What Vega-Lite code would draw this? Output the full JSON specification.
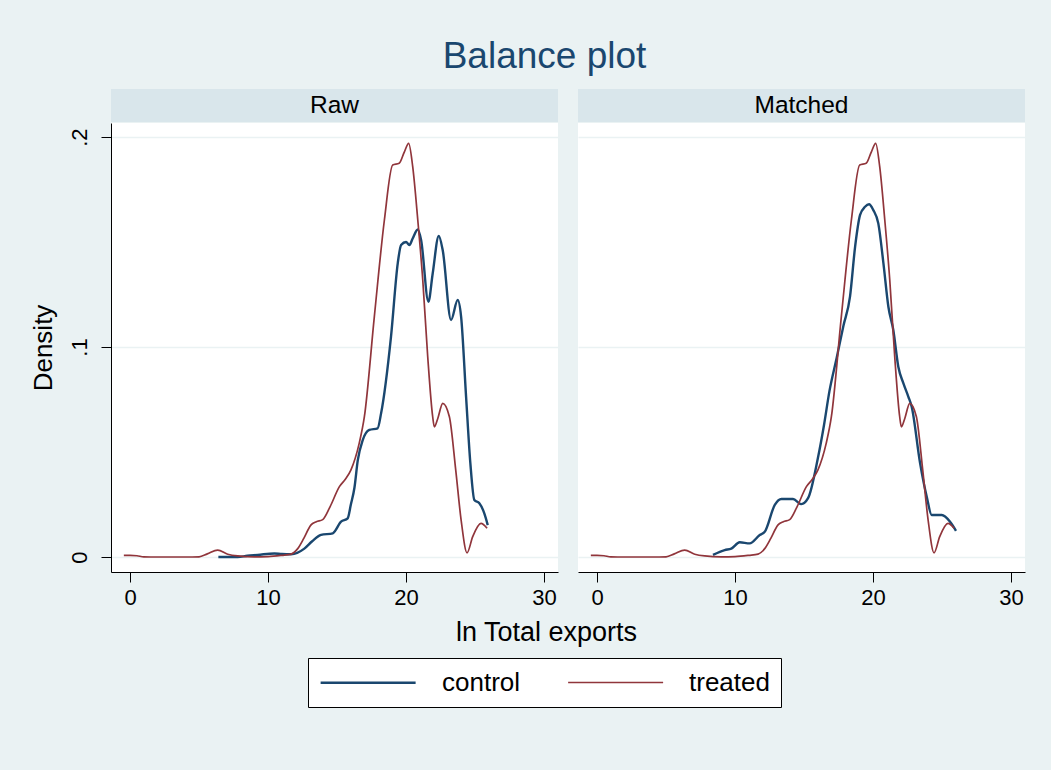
{
  "$schema": "https://vega.github.io/schema/vega-lite/v6.json",
  "background": "#eaf2f3",
  "padding": {"left": 30, "top": 38, "right": 26, "bottom": 64},
  "title": {"text": "Balance plot", "fontSize": 37, "font": "Liberation Sans", "fontWeight": "normal", "color": "#1a476f", "offset": 13, "anchor": "middle", "dx": 17},
  "config": {
    "font": "Liberation Sans",
    "view": {"stroke": null},
    "axis": {"domainColor": "#000", "tickColor": "#000", "labelColor": "#000", "titleColor": "#000", "labelFont": "Liberation Sans", "titleFont": "Liberation Sans", "titleFontWeight": "normal", "gridColor": "#eaf2f3", "gridWidth": 1.5}
  },
  "datasets": {
    "dens": [
      {"sample": "Raw", "group": "control", "x": 6.4, "y": 0.0},
      {"sample": "Raw", "group": "control", "x": 7.8, "y": 0.0},
      {"sample": "Raw", "group": "control", "x": 8.5, "y": 0.0006},
      {"sample": "Raw", "group": "control", "x": 9.25, "y": 0.001},
      {"sample": "Raw", "group": "control", "x": 10.46, "y": 0.0017},
      {"sample": "Raw", "group": "control", "x": 11.0, "y": 0.0014},
      {"sample": "Raw", "group": "control", "x": 11.67, "y": 0.0013},
      {"sample": "Raw", "group": "control", "x": 12.63, "y": 0.004},
      {"sample": "Raw", "group": "control", "x": 13.2, "y": 0.0075},
      {"sample": "Raw", "group": "control", "x": 13.84, "y": 0.0105},
      {"sample": "Raw", "group": "control", "x": 14.69, "y": 0.0113},
      {"sample": "Raw", "group": "control", "x": 15.29, "y": 0.0168},
      {"sample": "Raw", "group": "control", "x": 15.77, "y": 0.0184},
      {"sample": "Raw", "group": "control", "x": 16.0, "y": 0.025},
      {"sample": "Raw", "group": "control", "x": 16.26, "y": 0.033},
      {"sample": "Raw", "group": "control", "x": 16.5, "y": 0.046},
      {"sample": "Raw", "group": "control", "x": 16.86, "y": 0.0557},
      {"sample": "Raw", "group": "control", "x": 17.34, "y": 0.0605},
      {"sample": "Raw", "group": "control", "x": 17.94, "y": 0.0613},
      {"sample": "Raw", "group": "control", "x": 18.19, "y": 0.0684},
      {"sample": "Raw", "group": "control", "x": 18.91, "y": 0.105},
      {"sample": "Raw", "group": "control", "x": 19.4, "y": 0.14},
      {"sample": "Raw", "group": "control", "x": 19.64, "y": 0.1486},
      {"sample": "Raw", "group": "control", "x": 20.0, "y": 0.150},
      {"sample": "Raw", "group": "control", "x": 20.24, "y": 0.1486},
      {"sample": "Raw", "group": "control", "x": 20.48, "y": 0.1517},
      {"sample": "Raw", "group": "control", "x": 20.85, "y": 0.156},
      {"sample": "Raw", "group": "control", "x": 21.09, "y": 0.151},
      {"sample": "Raw", "group": "control", "x": 21.62, "y": 0.1216},
      {"sample": "Raw", "group": "control", "x": 21.93, "y": 0.135},
      {"sample": "Raw", "group": "control", "x": 22.37, "y": 0.1529},
      {"sample": "Raw", "group": "control", "x": 22.66, "y": 0.146},
      {"sample": "Raw", "group": "control", "x": 23.26, "y": 0.1129},
      {"sample": "Raw", "group": "control", "x": 23.74, "y": 0.1224},
      {"sample": "Raw", "group": "control", "x": 23.99, "y": 0.1144},
      {"sample": "Raw", "group": "control", "x": 24.35, "y": 0.0763},
      {"sample": "Raw", "group": "control", "x": 24.66, "y": 0.0446},
      {"sample": "Raw", "group": "control", "x": 24.95, "y": 0.0271},
      {"sample": "Raw", "group": "control", "x": 25.31, "y": 0.0256},
      {"sample": "Raw", "group": "control", "x": 25.67, "y": 0.0208},
      {"sample": "Raw", "group": "control", "x": 25.92, "y": 0.0152},
      {"sample": "Matched", "group": "control", "x": 8.4, "y": 0.001},
      {"sample": "Matched", "group": "control", "x": 9.25, "y": 0.0033},
      {"sample": "Matched", "group": "control", "x": 9.73, "y": 0.004},
      {"sample": "Matched", "group": "control", "x": 10.34, "y": 0.007},
      {"sample": "Matched", "group": "control", "x": 11.06, "y": 0.0065},
      {"sample": "Matched", "group": "control", "x": 11.79, "y": 0.0105},
      {"sample": "Matched", "group": "control", "x": 12.15, "y": 0.012},
      {"sample": "Matched", "group": "control", "x": 12.88, "y": 0.0248},
      {"sample": "Matched", "group": "control", "x": 13.36, "y": 0.0276},
      {"sample": "Matched", "group": "control", "x": 14.2, "y": 0.0276},
      {"sample": "Matched", "group": "control", "x": 14.8, "y": 0.0252},
      {"sample": "Matched", "group": "control", "x": 15.29, "y": 0.028},
      {"sample": "Matched", "group": "control", "x": 16.0, "y": 0.047},
      {"sample": "Matched", "group": "control", "x": 16.45, "y": 0.063},
      {"sample": "Matched", "group": "control", "x": 16.84, "y": 0.079},
      {"sample": "Matched", "group": "control", "x": 17.37, "y": 0.095},
      {"sample": "Matched", "group": "control", "x": 17.85, "y": 0.11},
      {"sample": "Matched", "group": "control", "x": 18.33, "y": 0.124},
      {"sample": "Matched", "group": "control", "x": 18.7, "y": 0.1478},
      {"sample": "Matched", "group": "control", "x": 19.06, "y": 0.1629},
      {"sample": "Matched", "group": "control", "x": 19.42, "y": 0.1668},
      {"sample": "Matched", "group": "control", "x": 19.71, "y": 0.168},
      {"sample": "Matched", "group": "control", "x": 20.02, "y": 0.1652},
      {"sample": "Matched", "group": "control", "x": 20.38, "y": 0.1589},
      {"sample": "Matched", "group": "control", "x": 20.75, "y": 0.14},
      {"sample": "Matched", "group": "control", "x": 21.11, "y": 0.1192},
      {"sample": "Matched", "group": "control", "x": 21.47, "y": 0.108},
      {"sample": "Matched", "group": "control", "x": 21.83, "y": 0.0906},
      {"sample": "Matched", "group": "control", "x": 22.2, "y": 0.0827},
      {"sample": "Matched", "group": "control", "x": 22.56, "y": 0.0763},
      {"sample": "Matched", "group": "control", "x": 22.8, "y": 0.0716},
      {"sample": "Matched", "group": "control", "x": 23.41, "y": 0.0446},
      {"sample": "Matched", "group": "control", "x": 23.89, "y": 0.0287},
      {"sample": "Matched", "group": "control", "x": 24.25, "y": 0.02},
      {"sample": "Matched", "group": "control", "x": 24.98, "y": 0.02},
      {"sample": "Matched", "group": "control", "x": 25.58, "y": 0.0168},
      {"sample": "Matched", "group": "control", "x": 26.01, "y": 0.0125},
      {"sample": "both", "group": "treated", "x": -0.45, "y": 0.0008},
      {"sample": "both", "group": "treated", "x": 0.0, "y": 0.0008},
      {"sample": "both", "group": "treated", "x": 0.5, "y": 0.0006},
      {"sample": "both", "group": "treated", "x": 1.0, "y": 0.0001},
      {"sample": "both", "group": "treated", "x": 2.0, "y": 0.0},
      {"sample": "both", "group": "treated", "x": 3.0, "y": 0.0},
      {"sample": "both", "group": "treated", "x": 4.0, "y": 0.0},
      {"sample": "both", "group": "treated", "x": 5.0, "y": 0.0001},
      {"sample": "both", "group": "treated", "x": 5.6, "y": 0.0015},
      {"sample": "both", "group": "treated", "x": 6.35, "y": 0.0033},
      {"sample": "both", "group": "treated", "x": 7.08, "y": 0.0013},
      {"sample": "both", "group": "treated", "x": 7.8, "y": 0.0005},
      {"sample": "both", "group": "treated", "x": 9.0, "y": 0.0001},
      {"sample": "both", "group": "treated", "x": 10.0, "y": 0.0002},
      {"sample": "both", "group": "treated", "x": 11.0, "y": 0.0008},
      {"sample": "both", "group": "treated", "x": 11.67, "y": 0.0014},
      {"sample": "both", "group": "treated", "x": 12.15, "y": 0.004},
      {"sample": "both", "group": "treated", "x": 12.6, "y": 0.009},
      {"sample": "both", "group": "treated", "x": 13.1, "y": 0.0152},
      {"sample": "both", "group": "treated", "x": 13.5, "y": 0.0168},
      {"sample": "both", "group": "treated", "x": 13.96, "y": 0.0178},
      {"sample": "both", "group": "treated", "x": 14.5, "y": 0.024},
      {"sample": "both", "group": "treated", "x": 15.17, "y": 0.0335},
      {"sample": "both", "group": "treated", "x": 15.6, "y": 0.037},
      {"sample": "both", "group": "treated", "x": 16.0, "y": 0.0414},
      {"sample": "both", "group": "treated", "x": 16.6, "y": 0.054},
      {"sample": "both", "group": "treated", "x": 16.98, "y": 0.0668},
      {"sample": "both", "group": "treated", "x": 17.7, "y": 0.1144},
      {"sample": "both", "group": "treated", "x": 18.43, "y": 0.1605},
      {"sample": "both", "group": "treated", "x": 19.03, "y": 0.1867},
      {"sample": "both", "group": "treated", "x": 19.5, "y": 0.1875},
      {"sample": "both", "group": "treated", "x": 19.88, "y": 0.193},
      {"sample": "both", "group": "treated", "x": 20.19, "y": 0.197},
      {"sample": "both", "group": "treated", "x": 20.48, "y": 0.186},
      {"sample": "both", "group": "treated", "x": 20.85, "y": 0.1605},
      {"sample": "both", "group": "treated", "x": 21.21, "y": 0.132},
      {"sample": "both", "group": "treated", "x": 21.57, "y": 0.0954},
      {"sample": "both", "group": "treated", "x": 21.93, "y": 0.0668},
      {"sample": "both", "group": "treated", "x": 22.05, "y": 0.062},
      {"sample": "both", "group": "treated", "x": 22.3, "y": 0.066},
      {"sample": "both", "group": "treated", "x": 22.66, "y": 0.0732},
      {"sample": "both", "group": "treated", "x": 23.14, "y": 0.0668},
      {"sample": "both", "group": "treated", "x": 23.6, "y": 0.0414},
      {"sample": "both", "group": "treated", "x": 23.99, "y": 0.0176},
      {"sample": "both", "group": "treated", "x": 24.42, "y": 0.002},
      {"sample": "both", "group": "treated", "x": 24.83, "y": 0.0097},
      {"sample": "both", "group": "treated", "x": 25.43, "y": 0.016},
      {"sample": "both", "group": "treated", "x": 25.87, "y": 0.0137}
    ]
  },
  "vconcat": [
    {
      "title": {"text": "ln Total exports", "orient": "bottom", "fontSize": 27, "font": "Liberation Sans", "fontWeight": "normal", "color": "#000", "offset": 12, "anchor": "middle", "dx": 19},
      "spacing": 20,
      "hconcat": [
        {
          "spacing": 1,
          "bounds": "flush",
          "vconcat": [
            {
              "width": 447, "height": 33,
              "view": {"fill": "#d9e6eb", "stroke": null},
              "data": {"values": [{"label": "Raw"}]},
              "mark": {"type": "text", "fontSize": 24.5, "color": "#000", "font": "Liberation Sans"},
              "encoding": {"text": {"field": "label", "type": "nominal"}}
            },
            {
              "width": 447, "height": 449,
              "view": {"fill": "white", "stroke": null},
              "data": {"name": "dens"},
              "transform": [{"filter": "datum.sample == 'Raw' || datum.sample == 'both'"}],
              "mark": {"type": "line", "interpolate": "monotone"},
              "encoding": {
                "x": {"field": "x", "type": "quantitative", "scale": {"domain": [-1.38, 31.01], "nice": false, "zero": false}, "axis": {"values": [0, 10, 20, 30], "title": null, "labelFontSize": 22, "tickSize": 10, "labelPadding": 5, "grid": false}},
                "y": {"field": "y", "type": "quantitative", "scale": {"domain": [-0.00714, 0.2067], "nice": false, "zero": false}, "axis": {"values": [0, 0.1, 0.2], "title": "Density", "titleFontSize": 26, "labelFontSize": 22, "labelAngle": -90, "labelAlign": "center", "labelBaseline": "bottom", "tickSize": 10, "labelPadding": 10, "titlePadding": 12, "labelExpr": "datum.value == 0 ? '0' : replace(format(datum.value, '.1f'), '0.', '.')", "grid": true}},
                "strokeWidth": {"field": "group", "type": "nominal", "scale": {"domain": ["control", "treated"], "range": [2.4, 1.7]}, "legend": null},
                "color": {"field": "group", "type": "nominal", "scale": {"domain": ["control", "treated"], "range": ["#1a476f", "#90353b"]},
                  "legend": {"title": null, "orient": "none", "legendX": 197, "legendY": 569, "direction": "horizontal", "symbolType": "M-1,0H7", "symbolSize": 564, "symbolStrokeWidth": 2, "labelFontSize": 26, "labelFont": "Liberation Sans", "labelColor": "#000", "labelOffset": 96, "columnPadding": 43, "padding": 11, "fillColor": "white", "strokeColor": "#000"}}
              }
            }
          ]
        },
        {
          "spacing": 1,
          "bounds": "flush",
          "vconcat": [
            {
              "width": 447, "height": 33,
              "view": {"fill": "#d9e6eb", "stroke": null},
              "data": {"values": [{"label": "Matched"}]},
              "mark": {"type": "text", "fontSize": 24.5, "color": "#000", "font": "Liberation Sans"},
              "encoding": {"text": {"field": "label", "type": "nominal"}}
            },
            {
              "width": 447, "height": 449,
              "view": {"fill": "white", "stroke": null},
              "data": {"name": "dens"},
              "transform": [{"filter": "datum.sample == 'Matched' || datum.sample == 'both'"}],
              "mark": {"type": "line", "interpolate": "monotone"},
              "encoding": {
                "x": {"field": "x", "type": "quantitative", "scale": {"domain": [-1.38, 31.01], "nice": false, "zero": false}, "axis": {"values": [0, 10, 20, 30], "title": null, "labelFontSize": 22, "tickSize": 10, "labelPadding": 5, "grid": false}},
                "y": {"field": "y", "type": "quantitative", "scale": {"domain": [-0.00714, 0.2067], "nice": false, "zero": false}, "axis": {"values": [0, 0.1, 0.2], "title": null, "labels": false, "ticks": false, "domain": false, "grid": true}},
                "strokeWidth": {"field": "group", "type": "nominal", "scale": {"domain": ["control", "treated"], "range": [2.4, 1.7]}, "legend": null},
                "color": {"field": "group", "type": "nominal", "scale": {"domain": ["control", "treated"], "range": ["#1a476f", "#90353b"]},
                  "legend": {"title": null, "orient": "none", "legendX": 197, "legendY": 569, "direction": "horizontal", "symbolType": "M-1,0H7", "symbolSize": 564, "symbolStrokeWidth": 2, "labelFontSize": 26, "labelFont": "Liberation Sans", "labelColor": "#000", "labelOffset": 96, "columnPadding": 43, "padding": 11, "fillColor": "white", "strokeColor": "#000"}}
              }
            }
          ]
        }
      ]
    }
  ]
}
